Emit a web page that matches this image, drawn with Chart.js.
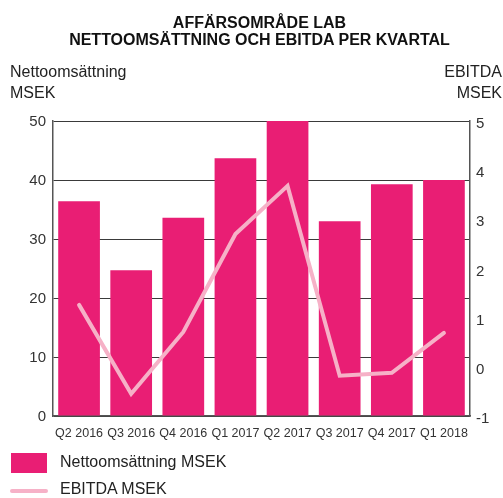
<!DOCTYPE html>
<html><head><meta charset="utf-8">
<script src="https://cdn.jsdelivr.net/npm/chart.js@4.4.0/dist/chart.umd.min.js"></script>
<style>
html,body{margin:0;padding:0;background:#fff;}
#wrap{position:relative;width:503px;height:498px;overflow:hidden;font-family:"Liberation Sans",Arial,sans-serif;color:#222;}
#c{position:absolute;left:0;top:0;}
.t{position:absolute;white-space:nowrap;}
</style></head>
<body><div id="wrap">
<canvas id="c" width="503" height="498"></canvas>
<div class="t" style="left:8px;width:503px;top:14px;text-align:center;font-weight:bold;font-size:16px;line-height:17px;color:#111;">AFFÄRSOMRÅDE LAB<br>NETTOOMSÄTTNING OCH EBITDA PER KVARTAL</div>
<div class="t" style="left:10px;top:61px;font-size:16px;line-height:21px;color:#222;">Nettoomsättning<br>MSEK</div>
<div class="t" style="right:1px;top:61px;font-size:16px;line-height:21px;text-align:right;color:#222;">EBITDA<br>MSEK</div>
<div class="t" style="left:11px;top:453px;width:36px;height:20px;background:#E91E74;"></div>
<div class="t" style="left:60px;top:452px;font-size:16px;line-height:20px;color:#222;">Nettoomsättning MSEK</div>
<div class="t" style="left:10px;top:489px;width:38px;height:4px;border-radius:2px;background:#F6B1C7;"></div>
<div class="t" style="left:60px;top:479px;font-size:16px;line-height:20px;color:#222;">EBITDA MSEK</div>
</div>
<script>
const categories = ["Q2 2016","Q3 2016","Q4 2016","Q1 2017","Q2 2017","Q3 2017","Q4 2017","Q1 2018"];
const nettoomsattning = [36.4, 24.7, 33.6, 43.7, 50.0, 33.0, 39.3, 40.0];
const ebitda = [1.26, -0.55, 0.71, 2.70, 3.68, -0.18, -0.12, 0.69];
const leftTicks = [0, 10, 20, 30, 40, 50];
const rightTicks = [-1, 0, 1, 2, 3, 4, 5];

new Chart(document.getElementById('c'), {
  data: {
    labels: categories,
    datasets: [
      { type: 'bar', label: 'Nettoomsättning MSEK', data: nettoomsattning, backgroundColor: '#E91E74',
        yAxisID: 'y', order: 1, barPercentage: 0.8, categoryPercentage: 1.0 },
      { type: 'line', label: 'EBITDA MSEK', data: ebitda, borderColor: '#F6B1C7', borderWidth: 4,
        pointRadius: 0, tension: 0, yAxisID: 'y1', order: 0, borderCapStyle: 'round', borderJoinStyle: 'miter' }
    ]
  },
  options: {
    responsive: false, animation: false, devicePixelRatio: 1,
    layout: { padding: { left: 0, right: 0, top: 121, bottom: 0 } },
    plugins: { legend: { display: false }, tooltip: { enabled: false }, title: { display: false } },
    scales: {
      x: {
        grid: { display: false },
        border: { display: true, color: '#555', width: 1.5 },
        ticks: { color: '#333', font: { family: 'Liberation Sans', size: 12.5 }, padding: 2, maxRotation: 0, autoSkip: false },
        afterFit: s => { s.height = 82; }
      },
      y: {
        position: 'left', min: 0, max: 50,
        afterBuildTicks: s => { s.ticks = leftTicks.map(v => ({ value: v })); },
        grid: { color: '#3a3a3a', lineWidth: 1, drawTicks: false },
        border: { display: true, color: '#555', width: 1.5 },
        ticks: { color: '#333', font: { family: 'Liberation Sans', size: 15 }, padding: 7, labelOffset: 1 },
        afterFit: s => { s.width = 53; }
      },
      y1: {
        position: 'right', min: -1, max: 5,
        afterBuildTicks: s => { s.ticks = rightTicks.map(v => ({ value: v })); },
        grid: { display: false, drawTicks: false },
        border: { display: true, color: '#555', width: 1.5 },
        ticks: { color: '#333', font: { family: 'Liberation Sans', size: 15 }, padding: 6, labelOffset: 3 },
        afterFit: s => { s.width = 33; }
      }
    }
  }
});
</script>
</body></html>
